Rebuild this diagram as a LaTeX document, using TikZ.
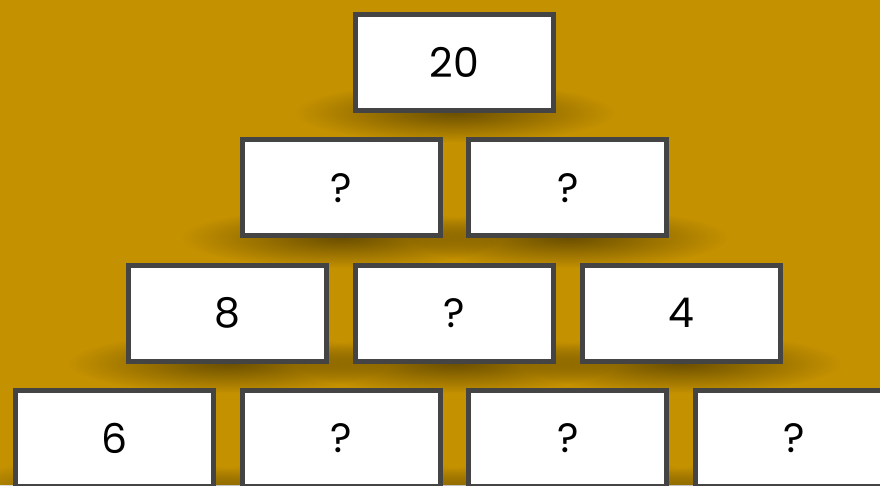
\documentclass[tikz,border=0pt]{standalone}
\usepackage{fontspec}
\setmainfont{Poppins}
\usetikzlibrary{fadings}
\tikzfading[name=softshadow, inner color=transparent!0, outer color=transparent!100]
\definecolor{bgc}{RGB}{196,145,0}
\definecolor{edgec}{RGB}{68,68,68}
\tikzset{
  card/.style={draw=edgec, line width=5pt, fill=white, rectangle,
    minimum width=198pt, minimum height=96pt, inner sep=0pt,
    font=\fontsize{41}{48}\selectfont, text=black},
  shade below/.style={fill=black, opacity=0.45, path fading=softshadow}
}
\begin{document}
\begin{tikzpicture}[x=1pt,y=-1pt]
\useasboundingbox (0,0) rectangle (880,485);
\clip (0,0) rectangle (880,485);
\fill[bgc] (0,0) rectangle (880,485);
% shadows
\foreach \x/\y in {454.5/62.5, 341.2/187.8, 567.8/187.8, 227.8/313.2, 454.5/313.2, 681.2/313.2, 114.5/438.5, 341.2/438.5, 567.8/438.5, 794.5/438.5}{
  \fill[shade below] (\x,\y+50) ellipse [x radius=160, y radius=30];
}
% row 1
\node[card] (a1) at (454.5,62.5) {20};
% row 2
\node[card] (b1) at (341.2,187.8) {?};
\node[card] (b2) at (567.8,187.8) {?};
% row 3
\node[card] (c1) at (227.8,313.2) {8};
\node[card] (c2) at (454.5,313.2) {?};
\node[card] (c3) at (681.2,313.2) {4};
% row 4
\node[card] (d1) at (114.5,438.5) {6};
\node[card] (d2) at (341.2,438.5) {?};
\node[card] (d3) at (567.8,438.5) {?};
\node[card] (d4) at (794.5,438.5) {?};
\end{tikzpicture}
\end{document}
